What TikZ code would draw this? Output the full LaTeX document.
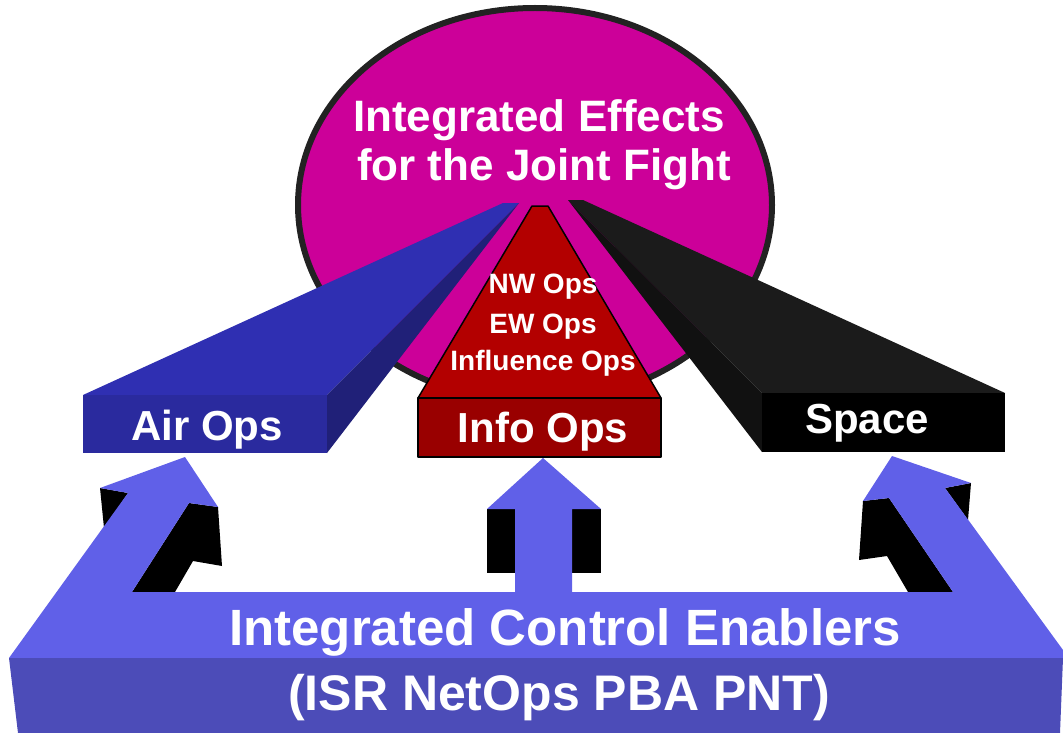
\documentclass[tikz,border=0pt]{standalone}
\usepackage{fontspec}
\setmainfont{Liberation Sans}
\definecolor{fightmag}{RGB}{204,0,153}
\definecolor{ringgray}{RGB}{34,34,34}
\definecolor{airtop}{RGB}{47,47,178}
\definecolor{airfront}{RGB}{42,42,158}
\definecolor{airside}{RGB}{32,32,120}
\definecolor{spacetop}{RGB}{27,27,27}
\definecolor{spaceside}{RGB}{17,17,17}
\definecolor{infored}{RGB}{179,0,0}
\definecolor{infodark}{RGB}{153,0,0}
\definecolor{baselight}{RGB}{96,96,232}
\definecolor{basedark}{RGB}{76,76,184}
\tikzset{
  optext/.style={text=white, font=\bfseries, inner sep=0pt, anchor=base},
  infoline/.style={draw=black, line width=1.5pt, line join=round},
}
\begin{document}
\begin{tikzpicture}[x=1pt, y=-1pt]
    \useasboundingbox (0,0) rectangle (1063,733);
    \draw [line width=6pt, draw=ringgray, fill=fightmag] (535,205) ellipse [x radius=237, y radius=197];
    \node [optext, font=\bfseries\fontsize{44}{50}\selectfont] (effects) at (539,132) {Integrated Effects};
    \node [optext, font=\bfseries\fontsize{44}{50}\selectfont] (jointfight) at (544,181) {for the Joint Fight};
    % air ops beam
    \fill [airtop] (83,395) -- (503,203) -- (519,203) -- (327,395) -- cycle;
    \fill [airside] (327,395) -- (519,203) -- (327,453) -- cycle;
    \fill [airfront] (83,395) rectangle (327,453);
    % space beam
    \fill [spacetop] (568,200) -- (583,200) -- (1005,393) -- (762,393) -- cycle;
    \fill [spaceside] (568,200) -- (762,393) -- (762,452) -- cycle;
    \fill [black] (762,393) rectangle (1005,452);
    % info ops
    \filldraw [infoline, fill=infored] (532,206) -- (548,206) -- (661,398) -- (418,398) -- cycle;
    \filldraw [infoline, fill=infodark] (418,398) rectangle (661,457);
    \node [optext, font=\bfseries\fontsize{42}{48}\selectfont] (airops) at (207,440) {Air Ops};
    \node [optext, font=\bfseries\fontsize{42}{48}\selectfont] (infoops) at (543,442) {Info Ops};
    \node [optext, font=\bfseries\fontsize{42}{48}\selectfont] (space) at (867,433) {Space};
    \node [optext, font=\bfseries\fontsize{28}{32}\selectfont] (nwops) at (543,293) {NW Ops};
    \node [optext, font=\bfseries\fontsize{28}{32}\selectfont] (ewops) at (543,333) {EW Ops};
    \node [optext, font=\bfseries\fontsize{28}{32}\selectfont] (inflops) at (543,370) {Influence Ops};
    % enabler arrows
    \fill [black] (100,488) -- (128,493) -- (104,528) -- cycle;
    \fill [black] (189,503) -- (218,507) -- (222,566) -- (193,561) -- (175,592) -- (132,592) -- cycle;
    \fill [black] (487,509) rectangle (515,573);
    \fill [black] (572,509) rectangle (601,573);
    \fill [black] (863,501) -- (889,498) -- (953,592) -- (908,592) -- (887,556) -- (859,560) -- cycle;
    \fill [black] (945,488) -- (971,483) -- (968,520) -- cycle;
    \fill [baselight] (9,658) -- (128,493) -- (100,488) -- (185,457) -- (218,507) -- (189,503) -- (132,592)
        -- (515,592) -- (515,509) -- (487,509) -- (543,458) -- (601,509) -- (572,509) -- (572,592)
        -- (953,592) -- (889,498) -- (863,501) -- (892,456) -- (971,483) -- (945,488) -- (1063,650)
        -- (1063,658) -- cycle;
    \fill [basedark] (9,658) -- (1063,658) -- (1060,733) -- (18,733) -- cycle;
    \node [optext, font=\bfseries\fontsize{51}{56}\selectfont] (enablers) at (565,645) {Integrated Control Enablers};
    \node [optext, font=\bfseries\fontsize{50}{56}\selectfont] (isr) at (559,710) {(ISR NetOps PBA PNT)};
\end{tikzpicture}
\end{document}
